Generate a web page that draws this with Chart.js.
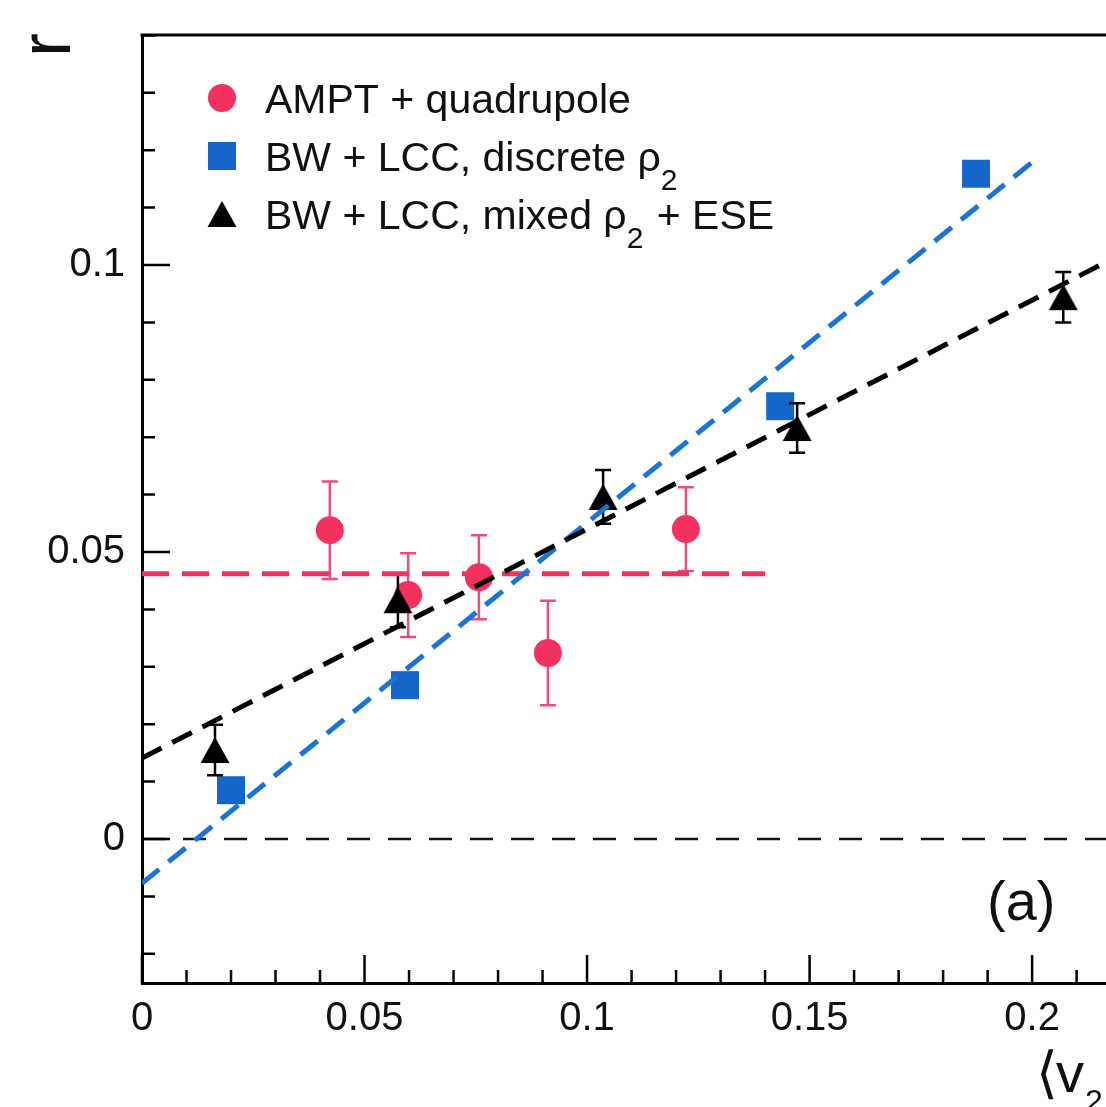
<!DOCTYPE html>
<html><head><meta charset="utf-8">
<script src="https://cdn.jsdelivr.net/npm/chart.js@4.4.1/dist/chart.umd.min.js"></script>
<style>html,body{margin:0;padding:0;background:#fff;overflow:hidden}#wrap{width:1106px;height:1107px;position:relative;overflow:hidden}</style>
</head><body><div id="wrap"><canvas id="c" width="1106" height="1107"></canvas></div>
<script>
// ---- data ----
const ampX   = [0.0422, 0.0598, 0.0757, 0.0912, 0.1222];
const ampR   = [0.0538, 0.0425, 0.0456, 0.0324, 0.0540];
const ampErr = [0.0085, 0.0073, 0.0073, 0.0091, 0.0073];

const bwX = [0.0200, 0.0591, 0.1434, 0.1874];
const bwR = [0.0085, 0.0268, 0.0754, 0.1159];

const mixX   = [0.0164, 0.0575, 0.1036, 0.1472, 0.2070];
const mixR   = [0.0155, 0.0416, 0.0596, 0.0716, 0.0944];
const mixErr = [0.0044, 0.0047, 0.0047, 0.0043, 0.0044];

const ampFitX = [0, 0.14],     ampFitR = [0.0462, 0.0462];
const bwFitX  = [0, 0.2],      bwFitR  = [-0.0077, 0.1179];
const mixFitX = [0, 0.2166],   mixFitR = [0.0141, 0.1005];
const zeroX   = [0, 0.2166],   zeroR   = [0, 0];

const xMajor = [0, 0.05, 0.1, 0.15, 0.2];
const xMajorLabels = ['0', '0.05', '0.1', '0.15', '0.2'];
const yMajor = [0, 0.05, 0.1];
const yMajorLabels = ['0', '0.05', '0.1'];

const legendLabels = [
  [['AMPT + quadrupole', 0]],
  [['BW + LCC, discrete \u03c1', 0], ['2', 1]],
  [['BW + LCC, mixed \u03c1', 0], ['2', 1], [' + ESE', 0]]
];
const yTitle = 'r';
const panelLabel = '(a)';

// ---- styling ----
const PINK = '#f2315f', PINK_ERR = '#e8507a', BLUE = '#1466c8', BLUE_LINE = '#1b74d4', BLACK = '#000';
const FONT = "'Liberation Sans', Arial, 'DejaVu Sans', sans-serif";
const X_MIN = 0, X_MAX = 0.2166, Y_MIN = -0.02509, Y_MAX = 0.14007;

function pts(xs, ys) { return xs.map((x, i) => ({x: x, y: ys[i]})); }
function minorTicks(lo, hi) { const out = []; for (let k = Math.ceil(lo * 100 - 1e-6); k <= Math.floor(hi * 100 + 1e-6); k++) out.push(k / 100); return out; }
const xTicks = minorTicks(X_MIN, X_MAX);
const yTicks = minorTicks(Y_MIN, Y_MAX);
function isMajor(v) { return Math.abs(v / 0.05 - Math.round(v / 0.05)) < 1e-6; }

function makeTri(color) {
  const c = document.createElement('canvas'); c.width = 30; c.height = 28;
  const g = c.getContext('2d'); g.fillStyle = color; g.beginPath();
  g.moveTo(15, 1); g.lineTo(29.5, 27); g.lineTo(0.5, 27); g.closePath(); g.fill();
  return c;
}
const triImg = makeTri(BLACK);

const errorBars = {
  id: 'errorBars',
  beforeDatasetDraw(chart, args) {
    const ds = chart.data.datasets[args.index];
    if (!ds.errors) return;
    const xs = chart.scales.x, ys = chart.scales.y, ctx = chart.ctx;
    ctx.save();
    ctx.strokeStyle = ds.errColor; ctx.lineWidth = ds.errWidth;
    ds.data.forEach((p, i) => {
      const e = ds.errors[i];
      const px = xs.getPixelForValue(p.x), t = ys.getPixelForValue(p.y + e), b = ys.getPixelForValue(p.y - e);
      ctx.beginPath();
      ctx.moveTo(px, t); ctx.lineTo(px, b);
      ctx.moveTo(px - 8, t); ctx.lineTo(px + 8, t);
      ctx.moveTo(px - 8, b); ctx.lineTo(px + 8, b);
      ctx.stroke();
    });
    ctx.restore();
  }
};

const frame = {
  id: 'frame',
  afterDatasetsDraw(chart) {
    const ctx = chart.ctx, a = chart.chartArea, xs = chart.scales.x, ys = chart.scales.y;
    ctx.save();
    ctx.strokeStyle = '#000'; ctx.lineWidth = 2.5;
    ctx.beginPath();
    xTicks.forEach(v => { const px = xs.getPixelForValue(v); const L = isMajor(v) ? 28 : 13; ctx.moveTo(px, a.bottom); ctx.lineTo(px, a.bottom - L); });
    yTicks.forEach(v => { const py = ys.getPixelForValue(v); const L = isMajor(v) ? 28 : 13; ctx.moveTo(a.left, py); ctx.lineTo(a.left + L, py); });
    ctx.stroke();
    ctx.lineWidth = 3;
    ctx.beginPath(); ctx.moveTo(a.left - 1.5, a.top); ctx.lineTo(a.right + 5, a.top); ctx.stroke();
    ctx.restore();
  },
  afterDraw(chart) {
    const ctx = chart.ctx;
    ctx.save();
    ctx.fillStyle = '#111';
    // y title
    ctx.save(); ctx.translate(70, 57); ctx.rotate(-Math.PI / 2);
    ctx.font = '72px ' + FONT; ctx.textAlign = 'left'; ctx.textBaseline = 'alphabetic';
    ctx.fillText(yTitle, 0, 0); ctx.restore();
    // panel label
    ctx.font = '56px ' + FONT; ctx.textAlign = 'left'; ctx.textBaseline = 'alphabetic';
    ctx.fillText(panelLabel, 987, 920);
    // x title (cut at right edge as in the reference)
    ctx.font = "56px 'DejaVu Sans', " + FONT;
    ctx.fillText('\u27e8', 1036, 1092);
    ctx.font = '56px ' + FONT;
    ctx.fillText('v', 1056, 1092);
    ctx.font = '32px ' + FONT;
    ctx.fillText('2', 1085, 1112);
    ctx.font = "56px 'DejaVu Sans', " + FONT;
    ctx.fillText('\u27e9', 1102, 1092);
    // legend
    const rows = [98, 156, 214];
    const sx = 222;
    ctx.fillStyle = PINK; ctx.beginPath(); ctx.arc(sx, rows[0], 14, 0, Math.PI * 2); ctx.fill();
    ctx.fillStyle = BLUE; ctx.fillRect(sx - 14, rows[1] - 14, 28, 28);
    ctx.drawImage(triImg, sx - 15, rows[2] - 14);
    ctx.fillStyle = '#111'; ctx.textBaseline = 'alphabetic';
    legendLabels.forEach((segs, r) => {
      let x = 265; const base = rows[r] + 15;
      segs.forEach(([txt, sub]) => {
        ctx.font = (sub ? '30px ' : '41px ') + FONT;
        ctx.fillText(txt, x, sub ? base + 19 : base);
        x += ctx.measureText(txt).width + (sub ? 2 : 0);
      });
    });
    ctx.restore();
  }
};

const tickFont = {family: FONT, size: 40};

new Chart(document.getElementById('c'), {
  type: 'scatter',
  data: {
    datasets: [
      {label: 'zero', data: pts(zeroX, zeroR), showLine: true, borderColor: '#111', borderWidth: 2.5, borderDash: [23, 18], pointRadius: 0, order: 10},
      {label: 'AMPT + quadrupole', data: pts(ampX, ampR), pointStyle: 'circle', pointRadius: 14, pointHoverRadius: 14, backgroundColor: PINK, borderWidth: 0, showLine: false, errors: ampErr, errColor: PINK_ERR, errWidth: 2.5, order: 6},
      {label: 'BW + LCC, discrete', data: pts(bwX, bwR), pointStyle: 'rect', pointRadius: 19.8, pointHoverRadius: 19.8, backgroundColor: BLUE, borderWidth: 0, showLine: false, order: 5},
      {label: 'BW + LCC, mixed', data: pts(mixX, mixR), pointStyle: triImg, pointRadius: 15, backgroundColor: BLACK, borderWidth: 0, showLine: false, errors: mixErr, errColor: BLACK, errWidth: 2.5, order: 4},
      {label: 'AMPT fit', data: pts(ampFitX, ampFitR), showLine: true, borderColor: PINK, borderWidth: 5, borderDash: [27, 13], pointRadius: 0, order: 3},
      {label: 'discrete fit', data: pts(bwFitX, bwFitR), showLine: true, borderColor: BLUE_LINE, borderWidth: 5, borderDash: [22, 12], pointRadius: 0, order: 2},
      {label: 'mixed fit', data: pts(mixFitX, mixFitR), showLine: true, borderColor: BLACK, borderWidth: 5, borderDash: [22, 12], pointRadius: 0, order: 1}
    ]
  },
  options: {
    responsive: false, animation: false, devicePixelRatio: 1,
    layout: {autoPadding: false, padding: {top: 35, left: 0, right: 0, bottom: 0}},
    plugins: {legend: {display: false}, tooltip: {enabled: false}},
    events: [],
    scales: {
      x: {
        type: 'linear', position: 'bottom', min: X_MIN, max: X_MAX,
        afterBuildTicks: s => { s.ticks = xTicks.map(v => ({value: v})); },
        afterFit: s => { s.height = 124; s.paddingLeft = 0; s.paddingRight = 0; },
        ticks: {font: tickFont, color: '#111', padding: 12, maxRotation: 0, autoSkip: false,
          callback: v => { const i = xMajor.findIndex(m => Math.abs(m - v) < 1e-9); return i >= 0 ? xMajorLabels[i] : ''; }},
        grid: {display: false, drawTicks: false},
        border: {display: true, color: '#000', width: 3}
      },
      y: {
        type: 'linear', position: 'left', min: Y_MIN, max: Y_MAX,
        afterBuildTicks: s => { s.ticks = yTicks.map(v => ({value: v})); },
        afterFit: s => { s.width = 142; s.paddingTop = 0; s.paddingBottom = 0; },
        ticks: {font: tickFont, color: '#111', padding: 17, autoSkip: false,
          callback: v => { const i = yMajor.findIndex(m => Math.abs(m - v) < 1e-9); return i >= 0 ? yMajorLabels[i] : ''; }},
        grid: {display: false, drawTicks: false},
        border: {display: true, color: '#000', width: 3}
      }
    }
  },
  plugins: [errorBars, frame]
});
</script></body></html>
